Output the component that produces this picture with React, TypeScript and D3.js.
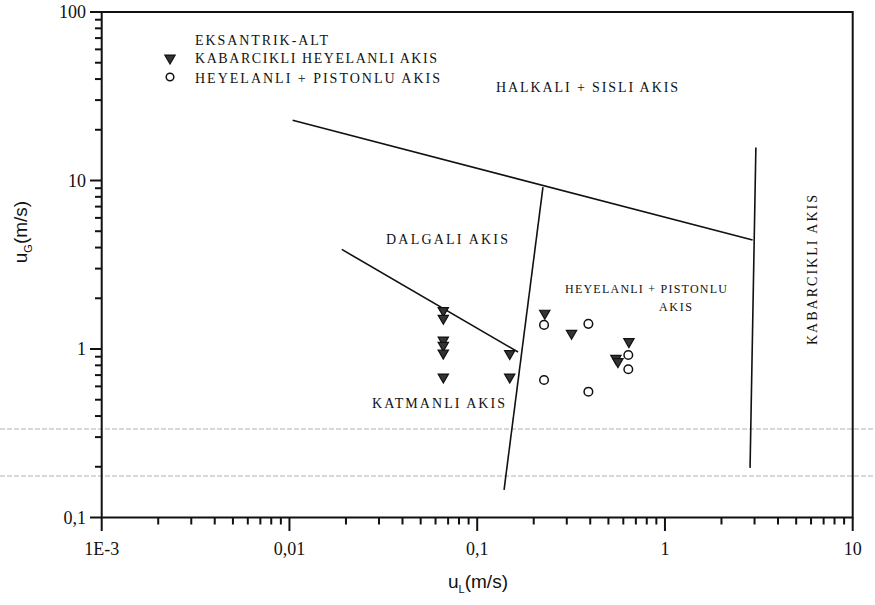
import { useEffect, useRef } from "react"
import * as d3 from "d3"

// gas / liquid superficial velocities
const triUL = [0.066, 0.066, 0.066, 0.066, 0.066, 0.066, 0.149, 0.149, 0.229, 0.318, 0.548, 0.562, 0.643]
const triUG = [1.69, 1.52, 1.13, 1.05, 0.945, 0.682, 0.94, 0.682, 1.63, 1.24, 0.881, 0.841, 1.105]

const circUL = [0.227, 0.391, 0.638, 0.638, 0.227, 0.391]
const circUG = [1.39, 1.41, 0.921, 0.758, 0.655, 0.558]

// regime boundaries: [uL, uG] pairs
const boundaries: [number, number][][] = [
  [[0.0104, 22.8], [2.93, 4.43]],
  [[0.224, 9.13], [0.139, 0.146]],
  [[3.05, 15.7], [2.84, 0.197]],
  [[0.019, 3.9], [0.165, 0.96]],
]

const xMajor = [0.001, 0.01, 0.1, 1, 10]
const xMajorLabels = ["1E-3", "0,01", "0,1", "1", "10"]
const yMajor = [0.1, 1, 10, 100]
const yMajorLabels = ["0,1", "1", "10", "100"]

const regionLabels = [
  { text: "HALKALI + SISLI AKIS", x: 496, y: 92, w: 182, size: 14 },
  { text: "DALGALI AKIS", x: 386, y: 244, w: 122, size: 14 },
  { text: "HEYELANLI + PISTONLU", x: 565, y: 293, w: 162, size: 12 },
  { text: "AKIS", x: 659, y: 311, w: 33, size: 12 },
  { text: "KATMANLI AKIS", x: 372, y: 408, w: 133, size: 14 },
]

const legendLabels = [
  { text: "EKSANTRIK-ALT", y: 45, w: 133 },
  { text: "KABARCIKLI HEYELANLI AKIS", y: 63, w: 242 },
  { text: "HEYELANLI + PISTONLU AKIS", y: 83, w: 245 },
]

export default function App() {
  const svgRef = useRef<SVGSVGElement>(null)

  useEffect(() => {
    if (!svgRef.current) return
    const svg = d3.select(svgRef.current)
    svg.selectAll("*").remove()

    const width = 875
    const height = 605
    const x = d3.scaleLog().domain([0.001, 10]).range([101.7, 852.7])
    const y = d3.scaleLog().domain([0.1, 100]).range([517.5, 12])

    svg.append("rect").attr("width", width).attr("height", height).attr("fill", "white")

    // faint scan lines across the page
    ;[429, 476].forEach((yy) => {
      svg
        .append("line")
        .attr("x1", 0)
        .attr("x2", width)
        .attr("y1", yy)
        .attr("y2", yy)
        .attr("stroke", "#999")
        .attr("stroke-width", 1)
        .attr("stroke-dasharray", "5 2")
        .attr("opacity", 0.75)
    })

    const serif = "Liberation Serif, Times New Roman, DejaVu Serif, serif"

    // minor ticks
    const xMinor: number[] = []
    xMajor.slice(0, -1).forEach((d) => {
      for (let k = 2; k <= 9; k++) xMinor.push(d * k)
    })
    const yMinor: number[] = []
    yMajor.slice(0, -1).forEach((d) => {
      for (let k = 2; k <= 9; k++) yMinor.push(d * k)
    })

    const axisG = svg.append("g").attr("stroke", "#111")

    xMinor.forEach((d) => {
      axisG.append("line").attr("x1", x(d)).attr("x2", x(d)).attr("y1", 517.5).attr("y2", 524.5).attr("stroke-width", 2)
    })
    xMajor.forEach((d) => {
      axisG.append("line").attr("x1", x(d)).attr("x2", x(d)).attr("y1", 517.5).attr("y2", 531).attr("stroke-width", 2)
    })
    yMinor.forEach((d) => {
      axisG.append("line").attr("x1", 95).attr("x2", 101.7).attr("y1", y(d)).attr("y2", y(d)).attr("stroke-width", 2)
    })
    yMajor.forEach((d) => {
      axisG.append("line").attr("x1", 90).attr("x2", 101.7).attr("y1", y(d)).attr("y2", y(d)).attr("stroke-width", 2)
    })

    // frame
    svg
      .append("rect")
      .attr("x", 101.7)
      .attr("y", 12)
      .attr("width", 852.7 - 101.7)
      .attr("height", 517.5 - 12)
      .attr("fill", "none")
      .attr("stroke", "#111")
      .attr("stroke-width", 2)

    // tick labels
    svg
      .append("g")
      .selectAll("text")
      .data(xMajor)
      .join("text")
      .attr("x", (d) => x(d))
      .attr("y", 555)
      .attr("text-anchor", "middle")
      .attr("font-family", serif)
      .attr("font-size", 18)
      .attr("fill", "#111")
      .text((_, i) => xMajorLabels[i])

    svg
      .append("g")
      .selectAll("text")
      .data(yMajor)
      .join("text")
      .attr("x", 86)
      .attr("y", (d) => y(d) + 6)
      .attr("text-anchor", "end")
      .attr("font-family", serif)
      .attr("font-size", 18)
      .attr("fill", "#111")
      .text((_, i) => yMajorLabels[i])

    // axis titles
    const xt = svg
      .append("text")
      .attr("x", 478)
      .attr("y", 588)
      .attr("text-anchor", "middle")
      .attr("font-family", "Liberation Sans Narrow, Liberation Sans, sans-serif")
      .attr("font-size", 19)
      .attr("fill", "#111")
    xt.append("tspan").text("u")
    xt.append("tspan").attr("font-size", 11).attr("dy", 5).text("L")
    xt.append("tspan").attr("dy", -5).text("(m/s)")

    const yt = svg
      .append("text")
      .attr("transform", "translate(27,232) rotate(-90)")
      .attr("text-anchor", "middle")
      .attr("font-family", "Liberation Sans, sans-serif")
      .attr("font-size", 19)
      .attr("fill", "#111")
    yt.append("tspan").text("u")
    yt.append("tspan").attr("font-size", 11).attr("dy", 5).text("G")
    yt.append("tspan").attr("dy", -5).text("(m/s)")

    // regime boundaries
    const line = d3
      .line<[number, number]>()
      .x((d) => x(d[0]))
      .y((d) => y(d[1]))
    svg
      .append("g")
      .selectAll("path")
      .data(boundaries)
      .join("path")
      .attr("d", (d) => line(d))
      .attr("fill", "none")
      .attr("stroke", "#111")
      .attr("stroke-width", 1.6)

    // region labels
    svg
      .append("g")
      .selectAll("text")
      .data(regionLabels)
      .join("text")
      .attr("x", (d) => d.x)
      .attr("y", (d) => d.y)
      .attr("font-family", serif)
      .attr("font-size", (d) => d.size)
      .attr("textLength", (d) => d.w)
      .attr("lengthAdjust", "spacing")
      .attr("fill", "#111")
      .text((d) => d.text)

    svg
      .append("text")
      .attr("transform", "translate(817,345) rotate(-90)")
      .attr("font-family", serif)
      .attr("font-size", 14)
      .attr("textLength", 150)
      .attr("lengthAdjust", "spacing")
      .attr("fill", "#111")
      .text("KABARCIKLI AKIS")

    // legend
    const tri = d3.symbol().type(d3.symbolTriangle).size(46)
    const legend = svg.append("g")
    legend
      .selectAll("text")
      .data(legendLabels)
      .join("text")
      .attr("x", 195)
      .attr("y", (d) => d.y)
      .attr("font-family", serif)
      .attr("font-size", 14)
      .attr("textLength", (d) => d.w)
      .attr("lengthAdjust", "spacing")
      .attr("fill", "#111")
      .text((d) => d.text)
    legend
      .append("path")
      .attr("d", tri())
      .attr("transform", "translate(170,58) rotate(180)")
      .attr("fill", "#333")
      .attr("stroke", "#111")
      .attr("stroke-width", 1.2)
    legend
      .append("circle")
      .attr("cx", 170)
      .attr("cy", 77)
      .attr("r", 3.8)
      .attr("fill", "white")
      .attr("stroke", "#111")
      .attr("stroke-width", 1.5)

    // data points
    svg
      .append("g")
      .selectAll("path")
      .data(triUL.map((d, i) => [d, triUG[i]]))
      .join("path")
      .attr("d", tri())
      .attr("transform", (d) => `translate(${x(d[0])},${y(d[1])}) rotate(180)`)
      .attr("fill", "#333")
      .attr("stroke", "#111")
      .attr("stroke-width", 1.2)

    svg
      .append("g")
      .selectAll("circle")
      .data(circUL.map((d, i) => [d, circUG[i]]))
      .join("circle")
      .attr("cx", (d) => x(d[0]))
      .attr("cy", (d) => y(d[1]))
      .attr("r", 4.3)
      .attr("fill", "white")
      .attr("stroke", "#111")
      .attr("stroke-width", 1.5)
  }, [])

  return (
    <svg
      ref={svgRef}
      width={875}
      height={605}
      style={{ position: "absolute", left: 0, top: 0 }}
    />
  )
}
